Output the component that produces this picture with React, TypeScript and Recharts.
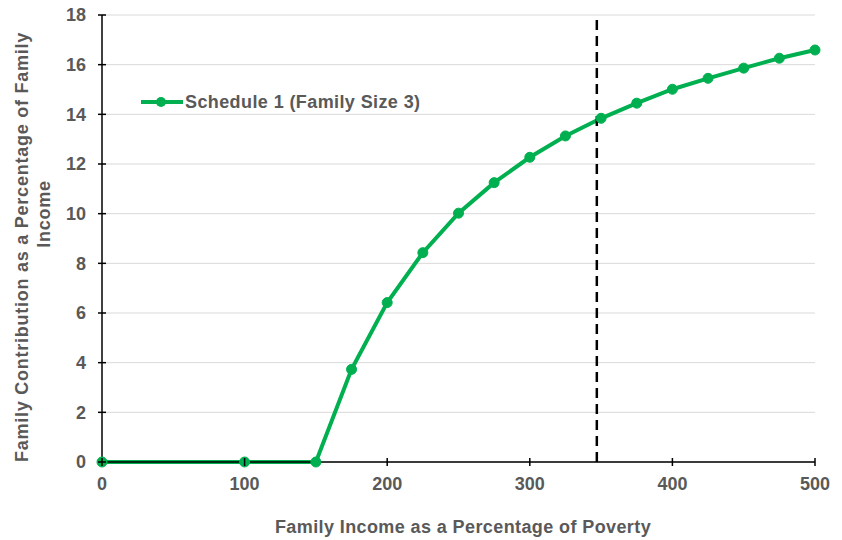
import {
  CartesianGrid,
  Legend,
  Line,
  LineChart,
  ReferenceLine,
  XAxis,
  YAxis,
} from 'recharts'

const incomePct = [0, 100, 150, 175, 200, 225, 250, 275, 300, 325, 350, 375, 400, 425, 450, 475, 500]
const contributionPct = [0, 0, 0, 3.73, 6.42, 8.43, 10.02, 11.25, 12.27, 13.13, 13.84, 14.45, 15.01, 15.45, 15.86, 16.26, 16.59]
const xTicks = [0, 100, 200, 300, 400, 500]
const yTicks = [0, 2, 4, 6, 8, 10, 12, 14, 16, 18]
const cutoffPct = 347
const seriesName = 'Schedule 1 (Family Size 3)'

const data = incomePct.map((income, i) => ({ income, contribution: contributionPct[i] }))

const FONT = '"Liberation Sans", Arial, sans-serif'
const TEXT = '#595959'
const GREEN = '#00b050'

function XTick({ x, y, payload }: any) {
  return (
    <g>
      <line x1={x} x2={x} y1={y - 4} y2={y + 4} stroke="#000" strokeWidth={1.5} />
      <text x={x} y={y + 28} textAnchor="middle" fill={TEXT} fontFamily={FONT} fontWeight="bold" fontSize={18}>
        {payload.value}
      </text>
    </g>
  )
}

function YTick({ x, y, payload }: any) {
  return (
    <g>
      <line x1={x - 4} x2={x + 4} y1={y} y2={y} stroke="#000" strokeWidth={1.5} />
      <text x={x - 16} y={y} dy="0.36em" textAnchor="end" fill={TEXT} fontFamily={FONT} fontWeight="bold" fontSize={18}>
        {payload.value}
      </text>
    </g>
  )
}

function LegendBox() {
  return (
    <div style={{ display: 'flex', alignItems: 'center', fontFamily: FONT, fontWeight: 'bold', fontSize: 18, color: TEXT, lineHeight: '20px', whiteSpace: 'nowrap' }}>
      <svg width={43} height={12}>
        <line x1={0} x2={42} y1={6} y2={6} stroke={GREEN} strokeWidth={4} />
        <circle cx={20} cy={6} r={5} fill={GREEN} />
      </svg>
      <span style={{ marginLeft: 1, letterSpacing: 0.4 }}>{seriesName}</span>
    </div>
  )
}

export default function App() {
  return (
    <div style={{ position: 'absolute', left: 0, top: 0, width: 842, height: 540, background: '#fff' }}>
      <LineChart width={842} height={540} data={data} margin={{ top: 15, right: 27, left: 0, bottom: 0 }}>
        <CartesianGrid vertical={false} stroke="#d9d9d9" strokeWidth={1} />
        <XAxis
          dataKey="income"
          type="number"
          domain={[0, 500]}
          ticks={xTicks}
          height={78}
          tickSize={0}
          tickMargin={0}
          tickLine={false}
          axisLine={{ stroke: '#000', strokeWidth: 1.5 }}
          tick={<XTick />}
          label={{
            content: () => (
              <text x={463} y={533} textAnchor="middle" fill={TEXT} fontFamily={FONT} fontWeight="bold" fontSize={18} letterSpacing={0.4}>
                Family Income as a Percentage of Poverty
              </text>
            ),
          }}
        />
        <YAxis
          type="number"
          domain={[0, 18]}
          ticks={yTicks}
          width={102}
          tickSize={0}
          tickMargin={0}
          tickLine={false}
          axisLine={{ stroke: '#000', strokeWidth: 1.5 }}
          tick={<YTick />}
          label={{
            content: () => (
              <g fill={TEXT} fontFamily={FONT} fontWeight="bold" fontSize={18}>
                <text transform="translate(28,247) rotate(-90)" textAnchor="middle" letterSpacing={0.75}>
                  Family Contribution as a Percentage of Family
                </text>
                <text transform="translate(50,214) rotate(-90)" textAnchor="middle" letterSpacing={0.75}>
                  Income
                </text>
              </g>
            ),
          }}
        />
        <Legend
          layout="vertical"
          align="center"
          verticalAlign="middle"
          content={<LegendBox />}
          wrapperStyle={{ left: 141, top: 92, width: 'auto' }}
        />
        <Line
          type="linear"
          dataKey="contribution"
          name={seriesName}
          stroke={GREEN}
          strokeWidth={4}
          dot={{ r: 5, fill: GREEN, stroke: GREEN, strokeWidth: 1 }}
          activeDot={false}
          isAnimationActive={false}
        />
        <ReferenceLine x={cutoffPct} stroke="#000" strokeWidth={2.5} strokeDasharray="10 6" />
      </LineChart>
    </div>
  )
}
